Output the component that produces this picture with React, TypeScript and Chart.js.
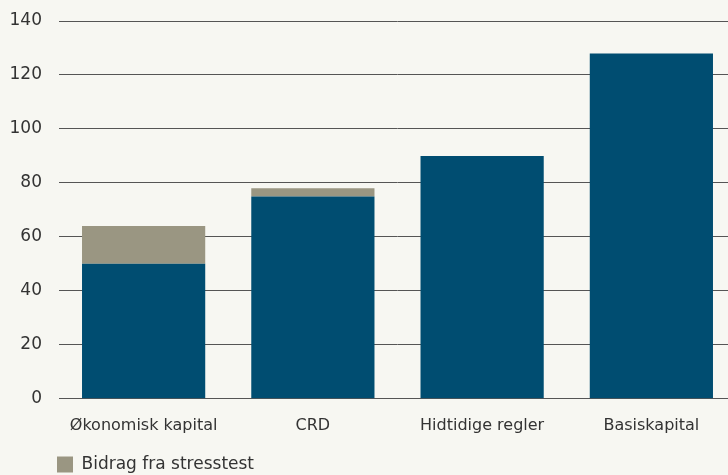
import React, { useEffect, useRef } from "react";
import { Chart, registerables } from "chart.js";

Chart.register(...registerables);

const categories = ["Økonomisk kapital", "CRD", "Hidtidige regler", "Basiskapital"];
const baseValues = [50, 75, 90, 128];
const stressValues = [14, 3, 0, 0];
const baseLabel = "Kapitalkrav";
const stressLabel = "Bidrag fra stresstest";
const yTicks = [0, 20, 40, 60, 80, 100, 120, 140];

const BG = "#f7f7f2";
const TEXT = "#333333";
const FONT = "'DejaVu Sans', sans-serif";

export default function App() {
  const ref = useRef<HTMLCanvasElement | null>(null);

  useEffect(() => {
    document.body.style.margin = "0";
    document.body.style.background = BG;
    document.body.style.overflow = "hidden";
    const canvas = ref.current;
    if (!canvas) return;
    const legendShift = {
      id: "legendShift",
      afterLayout(chart: any) {
        if (chart.legend) {
          chart.legend.left = 53;
        }
      },
    };
    const chart = new Chart(canvas, {
      type: "bar",
      data: {
        labels: categories,
        datasets: [
          {
            label: baseLabel,
            data: baseValues,
            backgroundColor: "#004d71",
            barPercentage: 0.728,
            categoryPercentage: 1,
          },
          {
            label: stressLabel,
            data: stressValues,
            backgroundColor: "#9a9682",
            barPercentage: 0.728,
            categoryPercentage: 1,
          },
        ],
      },
      options: {
        responsive: false,
        animation: false,
        layout: { padding: { top: 21, left: 0, right: 0, bottom: -8 } },
        plugins: {
          legend: {
            display: true,
            position: "bottom",
            align: "start",
            labels: {
              boxWidth: 16,
              boxHeight: 16,
              padding: 4,
              color: TEXT,
              font: { family: FONT, size: 17 },
              filter: (item: any) => item.text === stressLabel,
            },
          },
          tooltip: { enabled: false },
        },
        scales: {
          x: {
            stacked: true,
            grid: { display: false, drawTicks: false },
            border: { display: true, color: "#555555", width: 1 },
            ticks: {
              color: TEXT,
              font: { family: FONT, size: 16 },
              padding: 17,
            },
          },
          y: {
            stacked: true,
            min: 0,
            max: 140,
            afterBuildTicks: (scale: any) => {
              scale.ticks = yTicks.map((v) => ({ value: v }));
            },
            afterFit: (scale: any) => {
              scale.width = 59;
              scale.paddingTop = 0;
              scale.paddingBottom = 0;
            },
            grid: { color: "#555555", lineWidth: 1, drawTicks: false },
            border: { display: false },
            ticks: {
              color: TEXT,
              font: { family: FONT, size: 17 },
              padding: 17,
            },
          },
        },
      },
      plugins: [legendShift],
    });
    return () => chart.destroy();
  }, []);

  return (
    <div style={{ position: "fixed", left: 0, top: 0, width: 736, height: 475, background: BG }}>
      <canvas ref={ref} width={736} height={475} style={{ display: "block" }} />
    </div>
  );
}
